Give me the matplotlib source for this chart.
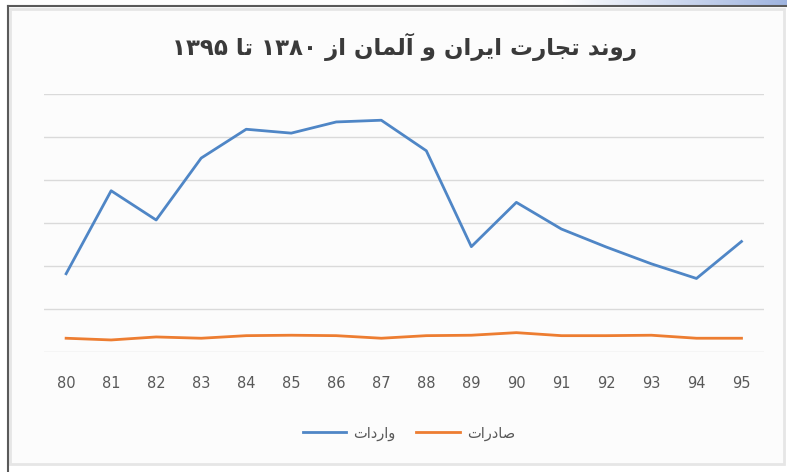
import matplotlib
matplotlib.use("Agg")
import matplotlib.pyplot as plt
import matplotlib.patches as mpatches
import numpy as np

# داده ها (خوانده شده از تصویر)
years = ["80", "81", "82", "83", "84", "85", "86", "87",
         "88", "89", "90", "91", "92", "93", "94", "95"]
imports = [1.82, 3.75, 3.07, 4.51, 5.18, 5.09, 5.35, 5.39,
           4.68, 2.45, 3.48, 2.86, 2.44, 2.05, 1.71, 2.57]
exports = [0.32, 0.28, 0.35, 0.32, 0.38, 0.39, 0.38, 0.32,
           0.38, 0.39, 0.45, 0.38, 0.38, 0.39, 0.32, 0.32]

title_text = "روند تجارت ایران و آلمان از ۱۳۸۰ تا ۱۳۹۵"
label_imports = "واردات"
label_exports = "صادرات"

# شکل های حروف: (isolated, final, initial, medial)
FORMS = {
    "ا": ("\uFE8D", "\uFE8E", None, None),
    "آ": ("\uFE81", "\uFE82", None, None),
    "ت": ("\uFE95", "\uFE96", "\uFE97", "\uFE98"),
    "ج": ("\uFE9D", "\uFE9E", "\uFE9F", "\uFEA0"),
    "د": ("\uFEA9", "\uFEAA", None, None),
    "ر": ("\uFEAD", "\uFEAE", None, None),
    "ز": ("\uFEAF", "\uFEB0", None, None),
    "ص": ("\uFEB9", "\uFEBA", "\uFEBB", "\uFEBC"),
    "ل": ("\uFEDD", "\uFEDE", "\uFEDF", "\uFEE0"),
    "م": ("\uFEE1", "\uFEE2", "\uFEE3", "\uFEE4"),
    "ن": ("\uFEE5", "\uFEE6", "\uFEE7", "\uFEE8"),
    "و": ("\uFEED", "\uFEEE", None, None),
    "ی": ("\uFBFC", "\uFBFD", "\uFBFE", "\uFBFF"),
}


def shape_word(word):
    # اتصال حروف و برگرداندن ترتیب برای نمایش چپ به راست
    out = []
    for i, ch in enumerate(word):
        if ch not in FORMS:
            out.append(ch)
            continue
        prev = word[i - 1] if i > 0 else None
        nxt = word[i + 1] if i + 1 < len(word) else None
        join_prev = prev in FORMS and FORMS[prev][2] is not None
        join_next = nxt in FORMS and FORMS[ch][2] is not None
        iso, fin, ini, med = FORMS[ch]
        if join_prev and join_next:
            out.append(med)
        elif join_prev:
            out.append(fin)
        elif join_next:
            out.append(ini)
        else:
            out.append(iso)
    if any(c in FORMS for c in word):
        return "".join(reversed(out))
    return "".join(out)


def rtl(text):
    return " ".join(shape_word(w) for w in reversed(text.split(" ")))


fig = plt.figure(figsize=(7.87, 4.72), dpi=100)
fig.patch.set_facecolor("white")

# قاب بیرونی
frame = mpatches.Rectangle((10 / 787, 8 / 472), 774 / 787, 455 / 472,
                           transform=fig.transFigure, facecolor="#fcfcfc",
                           edgecolor="#e6e6e6", linewidth=2, zorder=-10)
fig.add_artist(frame)
grad = np.linspace(0, 1, 256).reshape(1, -1)
bax = fig.add_axes([560 / 787, 1 - 5 / 472, 227 / 787, 5 / 472])
bax.imshow(grad, aspect="auto", cmap=matplotlib.colors.LinearSegmentedColormap.from_list(
    "bar", ["#ffffff", "#9fb4df"]))
bax.axis("off")
fig.add_artist(plt.Line2D([8 / 787, 1], [1 - 6 / 472, 1 - 6 / 472],
                          transform=fig.transFigure, color="#5a5a5a", linewidth=1.5))
fig.add_artist(plt.Line2D([8 / 787, 8 / 787], [0, 1 - 6 / 472],
                          transform=fig.transFigure, color="#5a5a5a", linewidth=1.5))

ax = fig.add_axes([43.6 / 787, 1 - 352 / 472, 720.4 / 787, 258 / 472])
ax.set_facecolor("none")
x = np.arange(len(years))
ax.plot(x, imports, color="#4f86c6", linewidth=2.0, label=rtl(label_imports),
        solid_joinstyle="round")
ax.plot(x, exports, color="#ed7d31", linewidth=2.0, label=rtl(label_exports),
        solid_joinstyle="round")

ax.set_xlim(-0.5, len(years) - 0.5)
ax.set_ylim(0, 6)
ax.set_yticks(np.arange(0, 7, 1))
ax.yaxis.grid(True, color="#dadada", linewidth=1.0)
ax.set_axisbelow(True)
ax.set_xticks(x)
ax.set_xticklabels(years)
ax.tick_params(axis="x", length=0, pad=17, labelsize=10.5, labelcolor="#595959")
ax.tick_params(axis="y", length=0, labelleft=False)
for s in ax.spines.values():
    s.set_visible(False)

fig.text(405 / 787, 1 - 47 / 472, rtl(title_text), ha="center", va="center",
         fontsize=16.5, fontweight="bold", color="#3a3a3a", family="DejaVu Sans")

leg = ax.legend(loc="center", bbox_to_anchor=(409 / 787, 1 - 433 / 472),
                bbox_transform=fig.transFigure, ncol=2, frameon=False,
                fontsize=10.5, handlelength=3.0, columnspacing=1.4, handletextpad=0.5)
for t in leg.get_texts():
    t.set_color("#595959")

fig.savefig("out.png", dpi=100, facecolor=fig.get_facecolor())
